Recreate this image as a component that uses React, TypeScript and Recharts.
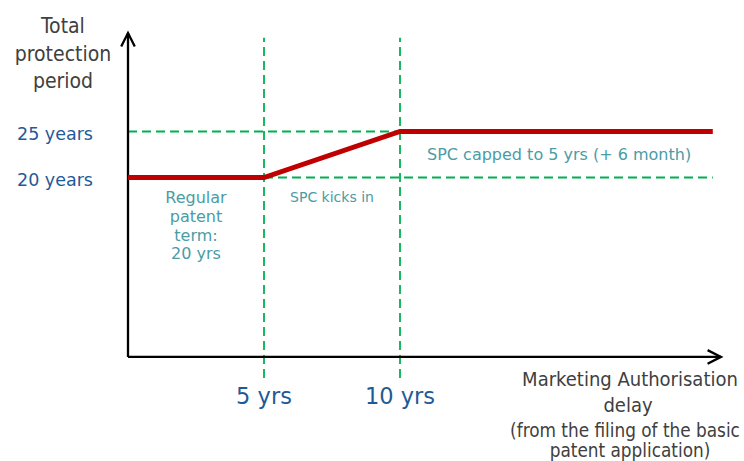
import React from 'react';
import { LineChart, Line, XAxis, YAxis, ReferenceLine, ReferenceDot, Label } from 'recharts';

// ---- data ----
const delayYears = [0, 5, 10, 21.5];
const protectionYears = [20, 20, 25, 25];
const xTickValues = [5, 10];
const xTickLabels = ['5 yrs', '10 yrs'];
const yTickValues = [20, 25];
const yTickLabels = ['20 years', '25 years'];
const yTitleLines = ['Total', 'protection', 'period'];
const xTitleLines = ['Marketing Authorisation', 'delay', '(from the filing of the basic', 'patent application)'];
const regularLines = ['Regular', 'patent', 'term:', '20 yrs'];
const kicksInLines = ['SPC kicks in'];
const cappedLines = ['SPC capped to 5 yrs (+ 6 month)'];

const data = delayYears.map((x, i) => ({ x, y: protectionYears[i] }));

const RED = '#C00000';
const GREEN = '#00B050';
const BLUE = '#1F5A98';
const TEAL = '#4A9CA6';
const GREY = '#404040';
const SANS = "'DejaVu Sans', Verdana, sans-serif";
const NARROW = "'DejaVu Sans Condensed', 'Liberation Sans Narrow', 'DejaVu Sans', sans-serif";

const ArrowShape = (p: any) => {
  const { x1, y1, x2, y2 } = p;
  const ang = Math.atan2(y2 - y1, x2 - x1);
  const L = 15;
  const a = 0.47;
  const ax1 = x2 - L * Math.cos(ang - a);
  const ay1 = y2 - L * Math.sin(ang - a);
  const ax2 = x2 - L * Math.cos(ang + a);
  const ay2 = y2 - L * Math.sin(ang + a);
  return (
    <g>
      <line x1={x1} y1={y1} x2={x2} y2={y2} stroke="#000" strokeWidth={2.3} />
      <polyline
        points={`${ax1},${ay1} ${x2},${y2} ${ax2},${ay2}`}
        fill="none"
        stroke="#000"
        strokeWidth={2.3}
      />
    </g>
  );
};

const XTick = (p: any) => {
  const { x, y, payload } = p;
  const idx = xTickValues.indexOf(payload.value);
  return (
    <text x={x} y={y + 15} textAnchor="middle" fontFamily={SANS} fontSize={22.5} fill={BLUE}>
      {xTickLabels[idx]}
    </text>
  );
};

const YTick = (p: any) => {
  const { y, payload } = p;
  const idx = yTickValues.indexOf(payload.value);
  return (
    <text x={55} y={y + 8.5} textAnchor="middle" fontFamily={SANS} fontSize={17.5} fill={BLUE}>
      {yTickLabels[idx]}
    </text>
  );
};

const makeTextBlock = (lines: string[], size: number, lineH: number, color: string, family: string) =>
  (p: any) => {
    const { cx, cy } = p;
    return (
      <text x={cx} y={cy} textAnchor="middle" fontFamily={family} fontSize={size} fill={color}>
        {lines.map((t, i) => (
          <tspan key={i} x={cx} dy={i === 0 ? 0 : lineH}>
            {t}
          </tspan>
        ))}
      </text>
    );
  };

const YTitle = () => (
  <text x={63} y={33} textAnchor="middle" fontFamily={NARROW} fontSize={21} fill={GREY}>
    {yTitleLines.map((t, i) => (
      <tspan key={i} x={63} dy={i === 0 ? 0 : 27.5}>
        {t}
      </tspan>
    ))}
  </text>
);

const xTitleBaselines = [386, 412, 437, 457];
const xTitleSizes = [20, 20, 18.8, 18.8];
const xTitleCenters = [630, 628, 625, 630];

const XTitle = () => (
  <g>
    {xTitleLines.map((t, i) => (
      <text
        key={i}
        x={xTitleCenters[i]}
        y={xTitleBaselines[i]}
        textAnchor="middle"
        fontFamily={NARROW}
        fontSize={xTitleSizes[i]}
        fill={GREY}
      >
        {t}
      </text>
    ))}
  </g>
);

const dashed = { stroke: GREEN, strokeWidth: 1.8, strokeDasharray: '9 5' };

export default function App() {
  return (
    <div style={{ position: 'absolute', left: 0, top: 0, width: 744, height: 461, background: '#fff' }}>
      <LineChart
        width={744}
        height={461}
        data={data}
        margin={{ top: 30.3, right: 17.6, bottom: 0, left: 0 }}
      >
        <XAxis
          type="number"
          dataKey="x"
          domain={[0, 22]}
          ticks={xTickValues}
          interval={0}
          axisLine={false}
          tickLine={false}
          tickSize={0}
          tickMargin={0}
          height={71.9}
          tick={<XTick />}
          allowDataOverflow
        >
          <Label content={<XTitle />} />
        </XAxis>
        <YAxis
          type="number"
          domain={[-3, 36]}
          ticks={yTickValues}
          interval={0}
          axisLine={false}
          tickLine={false}
          tickSize={0}
          tickMargin={0}
          width={128}
          tick={<YTick />}
          allowDataOverflow
        >
          <Label content={<YTitle />} />
        </YAxis>

        <ReferenceLine segment={[{ x: 5, y: -1.8 }, { x: 5, y: 35.2 }]} {...dashed} />
        <ReferenceLine segment={[{ x: 10, y: -1.8 }, { x: 10, y: 35.2 }]} {...dashed} />
        <ReferenceLine segment={[{ x: 0, y: 25 }, { x: 10, y: 25 }]} {...dashed} />
        <ReferenceLine segment={[{ x: 5, y: 20 }, { x: 21.5, y: 20 }]} {...dashed} />

        <ReferenceLine segment={[{ x: 0, y: 0.5 }, { x: 0, y: 35.7 }]} shape={ArrowShape} />
        <ReferenceLine segment={[{ x: 0, y: 0.5 }, { x: 21.8, y: 0.5 }]} shape={ArrowShape} />

        <Line
          type="linear"
          dataKey="y"
          stroke={RED}
          strokeWidth={5}
          dot={false}
          activeDot={false}
          isAnimationActive={false}
        />

        <ReferenceDot x={2.5} y={17.2} r={0} shape={makeTextBlock(regularLines, 16, 18.7, TEAL, SANS)} />
        <ReferenceDot x={7.5} y={17.35} r={0} shape={makeTextBlock(kicksInLines, 14, 16, TEAL, SANS)} />
        <ReferenceDot x={15.85} y={21.9} r={0} shape={makeTextBlock(cappedLines, 16, 18, TEAL, SANS)} />
      </LineChart>
    </div>
  );
}
